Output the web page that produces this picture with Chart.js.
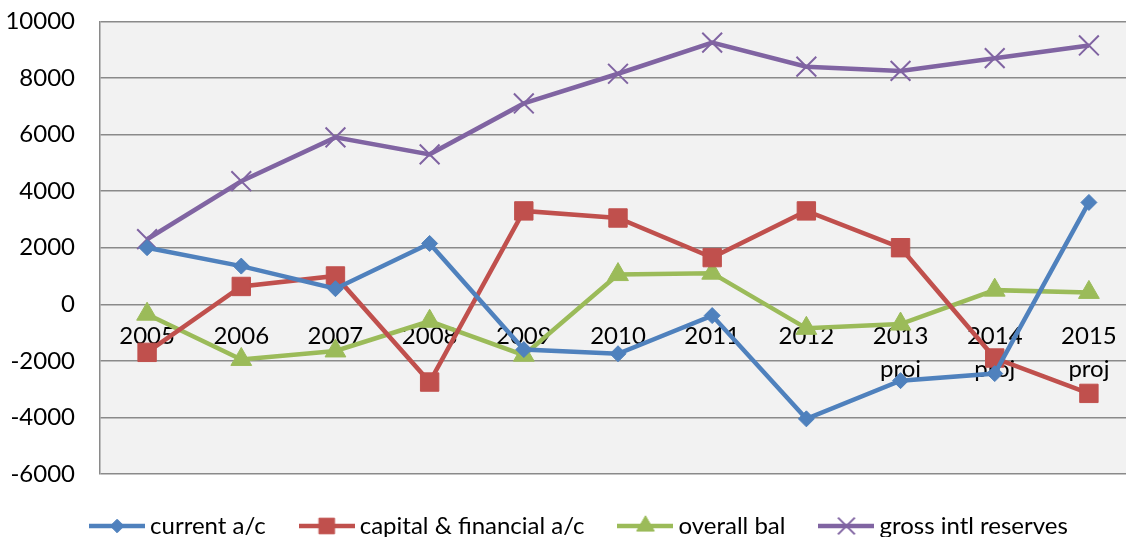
<!DOCTYPE html>
<html>
<head>
<meta charset="utf-8">
<script src="https://cdn.jsdelivr.net/npm/chart.js@4"></script>
<style>
  html, body { margin: 0; padding: 0; background: #fff; overflow: hidden; }
  #wrap { width: 1152px; height: 555px; margin-top: -18px; position: relative; }
</style>
</head>
<body>
<div id="wrap"><canvas id="chart"></canvas></div>
<script>
// ── Data ────────────────────────────────────────────────────────────────────
const years = ["2005", "2006", "2007", "2008", "2009", "2010", "2011", "2012",
  ["2013", "proj"], ["2014", "proj"], ["2015", "proj"]];
const currentAc = [2000, 1350, 550, 2150, -1600, -1750, -400, -4050, -2700, -2450, 3600];
const capitalFin = [-1700, 630, 1000, -2750, 3300, 3050, 1650, 3300, 2000, -1900, -3150];
const overallBal = [-350, -1950, -1650, -600, -1800, 1050, 1100, -850, -700, 500, 420];
const grossReserves = [2300, 4350, 5900, 5300, 7100, 8150, 9250, 8400, 8250, 8700, 9150];
const yMin = -6000, yMax = 10000, yStep = 2000;

const FONT = "Lato, 'Open Sans', sans-serif";

// ── Series styles ───────────────────────────────────────────────────────────
const SERIES = [
  { label: "current a/c", data: currentAc, color: "#4F81BD", style: "rectRot", radius: 8, pbw: 1 },
  { label: "capital & financial a/c", data: capitalFin, color: "#C0504D", style: "rect", radius: 13, pbw: 1 },
  { label: "overall bal", data: overallBal, color: "#9BBB59", style: "triangle", radius: 12, pbw: 1 },
  { label: "gross intl reserves", data: grossReserves, color: "#8064A2", style: "crossRot", radius: 14, pbw: 2 },
];

// legend icon: short line with marker in the middle
function legendIcon(s) {
  const c = document.createElement("canvas");
  c.width = 56; c.height = 26;
  const ctx = c.getContext("2d");
  ctx.strokeStyle = s.color;
  ctx.lineWidth = 4.5;
  ctx.beginPath(); ctx.moveTo(0, 13); ctx.lineTo(56, 13); ctx.stroke();
  ctx.fillStyle = s.color;
  ctx.strokeStyle = s.color;
  ctx.lineWidth = s.pbw;
  Chart.helpers.drawPoint(ctx, { pointStyle: s.style, radius: s.radius * 0.85, rotation: 0, borderWidth: s.pbw }, 28, 13);
  return c;
}

const plotBg = {
  id: "plotBg",
  beforeDraw(chart) {
    const { ctx, chartArea: a } = chart;
    ctx.save();
    ctx.fillStyle = "#F2F2F2";
    ctx.fillRect(a.left, a.top, a.right - a.left, a.bottom - a.top);
    ctx.restore();
  }
};

new Chart(document.getElementById("chart").getContext("2d"), {
  type: "line",
  data: {
    labels: years,
    datasets: SERIES.map(s => ({
      label: s.label,
      data: s.data,
      borderColor: s.color,
      backgroundColor: s.color,
      borderWidth: 4.5,
      pointStyle: s.style,
      pointRadius: s.radius,
      pointBorderWidth: s.pbw,
      pointBorderColor: s.color,
      pointBackgroundColor: s.color,
      tension: 0,
      fill: false,
    }))
  },
  options: {
    animation: false,
    responsive: true,
    maintainAspectRatio: false,
    layout: { padding: { top: 7, left: 12, right: 0, bottom: -11 } },
    scales: {
      x: {
        position: { y: 0 },
        offset: true,
        grid: { display: false, drawTicks: false },
        border: { display: false },
        ticks: {
          autoSkip: false, maxRotation: 0, padding: 16, color: "#000",
          font: { family: FONT, size: 24, lineHeight: 1.35 }
        }
      },
      y: {
        min: yMin, max: yMax,
        afterFit(scale) {
          scale.width = 88;
          scale._computeLabelArea = () => undefined; // don't clip the wide labels
        },
        grid: { color: "#8A8A8A", lineWidth: 1.5, drawTicks: false },
        border: { color: "#8A8A8A", width: 1.5 },
        ticks: {
          stepSize: yStep, padding: 25, color: "#000",
          font: { family: FONT, size: 24 },
          callback: v => String(v)
        }
      }
    },
    plugins: {
      legend: {
        position: "bottom",
        labels: {
          usePointStyle: true,
          pointStyleWidth: 42,
          padding: 40,
          color: "#000",
          font: { family: FONT, size: 24, lineHeight: 1.0 },
          generateLabels(chart) {
            return SERIES.map((s, i) => ({
              text: s.label,
              pointStyle: legendIcon(s),
              fillStyle: s.color,
              strokeStyle: s.color,
              lineWidth: 0,
              hidden: false,
              datasetIndex: i,
            }));
          }
        }
      },
      tooltip: { enabled: false }
    }
  },
  plugins: [plotBg]
});
</script>
</body>
</html>
